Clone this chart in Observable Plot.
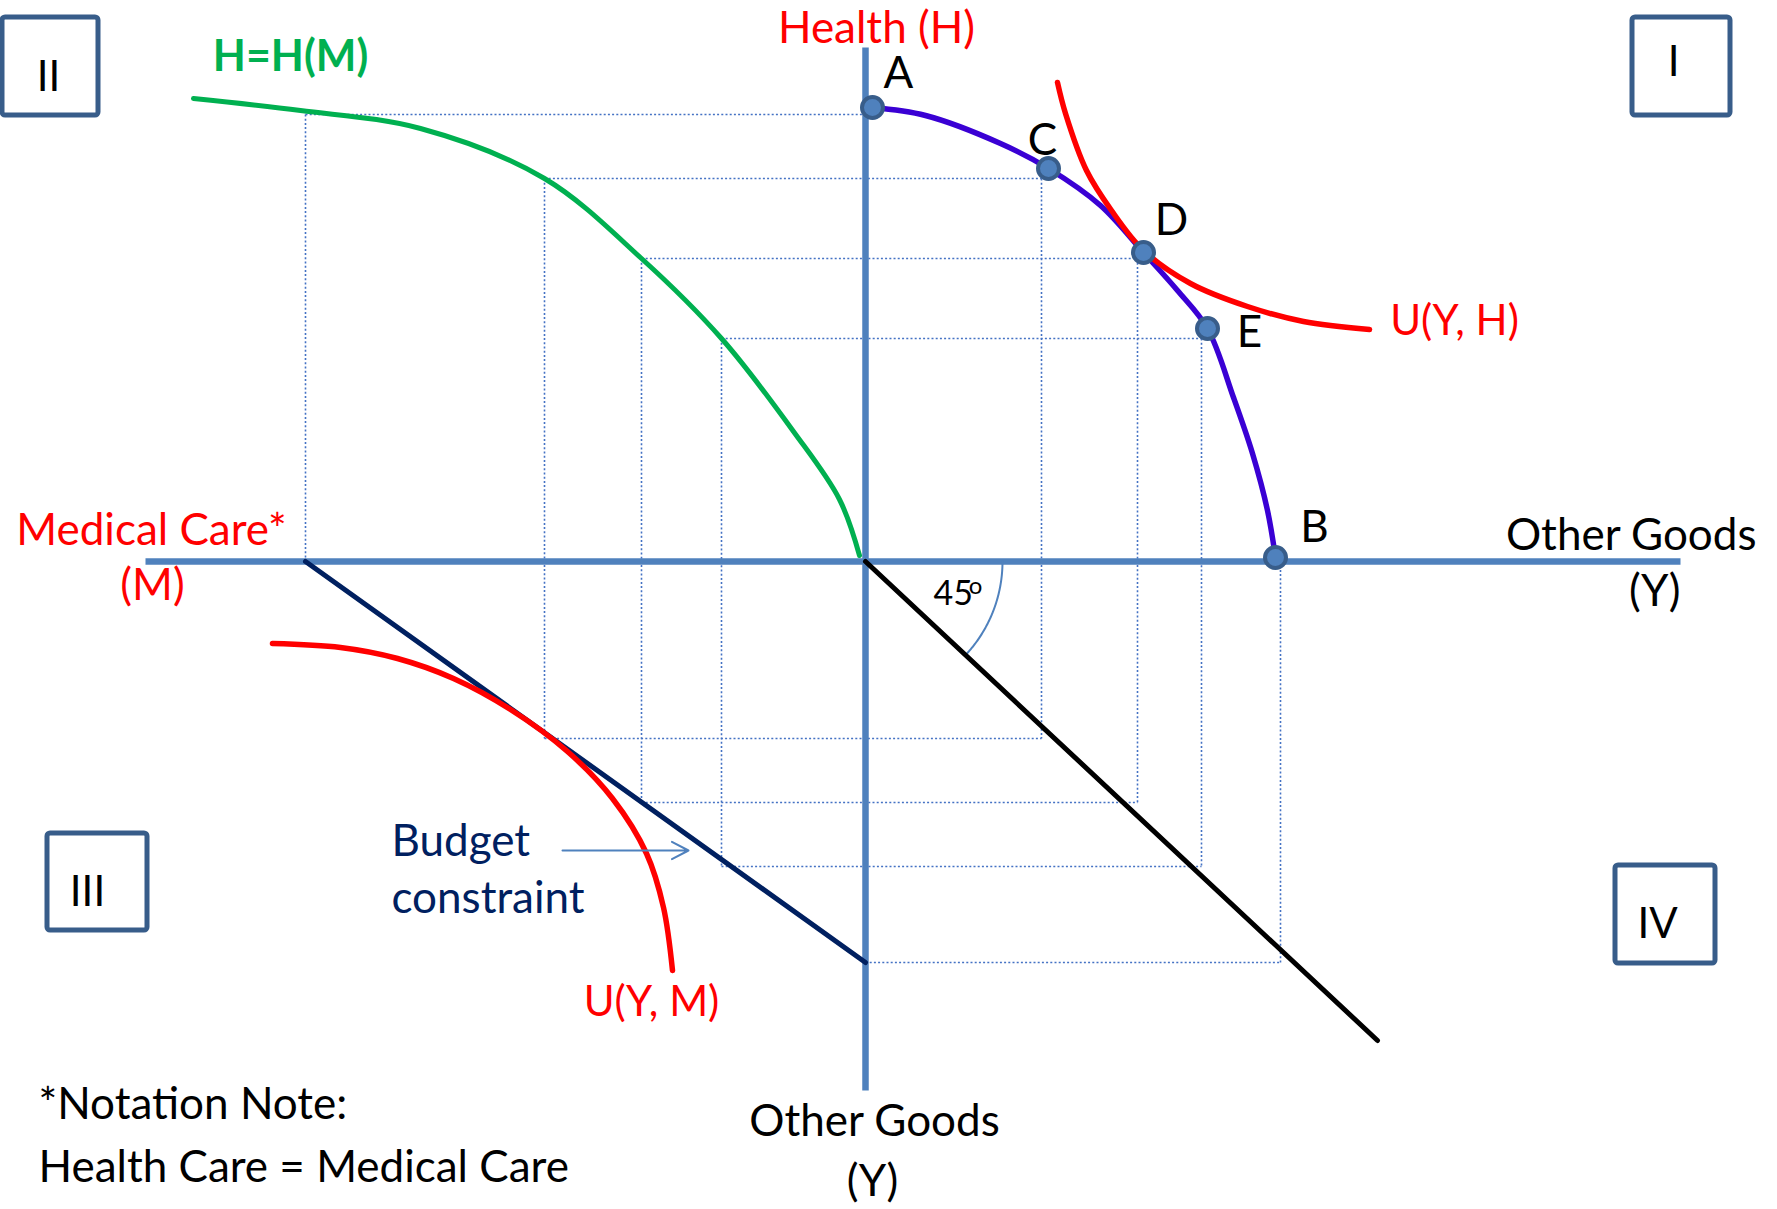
<!DOCTYPE html>
<html><head><meta charset="utf-8">
<script src="https://cdn.jsdelivr.net/npm/d3@7"></script>
<script src="https://cdn.jsdelivr.net/npm/@observablehq/plot@0.6"></script>
<style>html,body{margin:0;padding:0;background:#fff;} svg{display:block;}</style>
</head><body><div id="chart"></div>
<script>
// ---- data (units: Y = other goods, H = health, M = medical care; origin at axes crossing) ----
// Health production possibility frontier (quadrant I): Y vs H
const ppfY = [7, 60, 135, 183, 235, 278, 312, 342, 368, 387, 402, 410];
const ppfH = [454, 446, 418, 393, 356, 309, 271, 233, 164, 108, 51, 4];
// Labelled points on the frontier
const pointLabels = ["A", "C", "D", "E", "B"];
const pointY = [7, 183, 278, 342, 410];
const pointH = [454, 393, 309, 233, 4];
// Indifference curve U(Y, H)
const uhY = [192, 200, 221, 246, 278, 325, 382, 438, 504];
const uhH = [479, 448, 391, 351, 311, 278, 255, 240, 232];
// Health production function H = H(M) (quadrant II)
const hmM = [672, 565, 445, 321, 224, 144, 72, 26, 6];
const hmH = [463, 451, 433, 383, 303, 223, 130, 62, 6];
// Budget constraint (quadrant III): M vs Y
const budgetM = [560, 0];
const budgetY = [0, 401];
// Indifference curve U(Y, M)
const umM = [593, 525, 468, 412, 355, 298, 253, 219, 202, 193];
const umY = [82, 86, 97, 117, 148, 190, 237, 292, 346, 409];
// 45 degree line (quadrant IV)
const diagY = [0, 512];
const diagY2 = [0, 479];
// Projection guide levels for A, C, D, E, B
const levels = ["A", "C", "D", "E", "B"];
const levelH = [447, 383, 303, 223, 0];
const levelM = [560, 321, 224, 144, 0];
const levelY = [0, 176, 272, 336, 415];
const levelYdown = [0, 177, 241, 305, 401];
// Axes extents
const axisX = [-720, 815];
const axisY = [-529, 514];
// Quadrant names
const quadrants = ["I", "II", "III", "IV"];

// ---- build tables ----
const zip = (xs, ys, fx = v => v, fy = v => v) => xs.map((v, i) => ({x: fx(v), y: fy(ys[i])}));
const ppf = zip(ppfY, ppfH);
const pts = pointLabels.map((l, i) => ({label: l, x: pointY[i], y: pointH[i]}));
const uh = zip(uhY, uhH);
const hm = zip(hmM, hmH, v => -v);
const budget = zip(budgetM, budgetY, v => -v, v => -v);
const um = zip(umM, umY, v => -v, v => -v);
const diag = zip(diagY, diagY2, v => v, v => -v);
const guides = [];
levels.forEach((k, i) => {
  const H = levelH[i], M = levelM[i], Y = levelY[i], D = levelYdown[i];
  if (H > 0) {
    guides.push({x1: -M, y1: H, x2: Y, y2: H});
    guides.push({x1: -M, y1: H, x2: -M, y2: -D});
  }
  if (Y > 0) {
    guides.push({x1: Y, y1: H, x2: Y, y2: -D});
    guides.push({x1: -M, y1: -D, x2: Y, y2: -D});
  }
});
const axes = [
  {x1: axisX[0], y1: 0, x2: axisX[1], y2: 0},
  {x1: 0, y1: axisY[1], x2: 0, y2: axisY[0]}
];
// angle marker between Y axis and 45° line
const diagAngle = Math.atan2(diagY2[1], diagY[1]) * 180 / Math.PI;
const arc = d3.range(0, diagAngle + 0.5, 0.5).map(a => ({x: 137 * Math.cos(a * Math.PI / 180), y: -137 * Math.sin(a * Math.PI / 180)}));

// annotation layout (screen offsets, 1 unit = 1 px)
const boxPos = {I: [767, 865, 446, 544], II: [-863, -767, 446, 544], III: [-818, -718, -369, -272], IV: [750, 850, -402, -304]};
const boxLabelPos = {I: [808, 499], II: [-817, 484], III: [-778, -331], IV: [792, -363]};
const boxes = quadrants.map(q => ({q, x1: boxPos[q][0], x2: boxPos[q][1], y1: boxPos[q][2], y2: boxPos[q][3], tx: boxLabelPos[q][0], ty: boxLabelPos[q][1]}));
const labelOffset = {A: [26, -34], C: [-6, -28], D: [28, -32], E: [42, 4], B: [39, -30]};
const ptLabels = pts.map(p => ({label: p.label, x: p.x + labelOffset[p.label][0], y: p.y - labelOffset[p.label][1]}));

const FS = 44;
const redMid = [
  {t: "Health (H)", x: 11, y: 533},
  {t: "Medical Care*", x: -714, y: 31},
  {t: "(M)", x: -713, y: -24}
];
const redSmall = [
  {t: "U(Y, H)", x: 589, y: 240},
  {t: "U(Y, M)", x: -214, y: -441}
];
const blackEnd = [
  {t: "Other Goods", x: 891, y: 26},
  {t: "(Y)", x: 815, y: -30}
];
const blackMid = [
  {t: "Other Goods", x: 9, y: -560},
  {t: "(Y)", x: 7, y: -620}
];
const blackStart = [
  {t: "*Notation Note:", x: -827, y: -543},
  {t: "Health Care = Medical Care", x: -827, y: -606}
];

const chart = Plot.plot({
  width: 1777, height: 1209, margin: 0,
  x: {domain: [-865, 912], axis: null},
  y: {domain: [-648, 561], axis: null},
  style: {fontFamily: "Lato, sans-serif", background: "white"},
  marks: [
    Plot.link(guides, {x1: "x1", y1: "y1", x2: "x2", y2: "y2", stroke: "#4472C4", strokeWidth: 1.6, strokeDasharray: "2,2.2"}),
    Plot.link(axes, {x1: "x1", y1: "y1", x2: "x2", y2: "y2", stroke: "#4F81BD", strokeWidth: 6.5}),
    Plot.line(arc, {x: "x", y: "y", stroke: "#4F81BD", strokeWidth: 2}),
    Plot.line(diag, {x: "x", y: "y", stroke: "#000", strokeWidth: 5}),
    Plot.line(budget, {x: "x", y: "y", stroke: "#002060", strokeWidth: 5}),
    Plot.line(um, {x: "x", y: "y", stroke: "#FF0000", strokeWidth: 5.5, curve: "catmull-rom"}),
    Plot.line(hm, {x: "x", y: "y", stroke: "#00B050", strokeWidth: 5, curve: "catmull-rom"}),
    Plot.line(ppf, {x: "x", y: "y", stroke: "#3A00D4", strokeWidth: 5.5, curve: "catmull-rom"}),
    Plot.line(uh, {x: "x", y: "y", stroke: "#FF0000", strokeWidth: 5.5, curve: "catmull-rom"}),
    Plot.arrow([{x1: -303, y1: -289, x2: -177, y2: -289}], {x1: "x1", y1: "y1", x2: "x2", y2: "y2", stroke: "#4F81BD", strokeWidth: 2, headLength: 14, headAngle: 55}),
    Plot.dot(pts, {x: "x", y: "y", r: 10.5, fill: "#4F81BD", stroke: "#385D8A", strokeWidth: 4}),
    Plot.text(ptLabels, {x: "x", y: "y", text: "label", fontSize: FS, fill: "#000"}),
    Plot.rect(boxes, {x1: "x1", x2: "x2", y1: "y1", y2: "y2", fill: "white", stroke: "#385D8A", strokeWidth: 5, rx: 3}),
    Plot.text(boxes, {x: "tx", y: "ty", text: "q", fontSize: 42, fill: "#000"}),
    Plot.text(redMid, {x: "x", y: "y", text: "t", fontSize: FS, fill: "#FF0000"}),
    Plot.text(redSmall, {x: "x", y: "y", text: "t", fontSize: 42, fill: "#FF0000"}),
    Plot.text(blackEnd, {x: "x", y: "y", text: "t", textAnchor: "end", fontSize: FS, fill: "#000"}),
    Plot.text(blackMid, {x: "x", y: "y", text: "t", fontSize: FS, fill: "#000"}),
    Plot.text(blackStart, {x: "x", y: "y", text: "t", textAnchor: "start", fontSize: FS, fill: "#000"}),
    Plot.text(["H=H(M)"], {x: -575, y: 504, text: d => d, fontSize: 43, fontWeight: "bold", fill: "#00B050"}),
    Plot.text(["Budget", "constraint"], {x: -474, y: (d, i) => i === 0 ? -280 : -337, text: d => d, textAnchor: "start", fontSize: 44, fill: "#002060"}),
    Plot.text(["45"], {x: 68, y: -33, text: d => d, textAnchor: "start", fontSize: 34, fill: "#000"}),
    Plot.text(["o"], {x: 110, y: -25, text: d => d, fontSize: 24, fill: "#000"})
  ]
});
document.getElementById("chart").appendChild(chart);
</script>
</body></html>
